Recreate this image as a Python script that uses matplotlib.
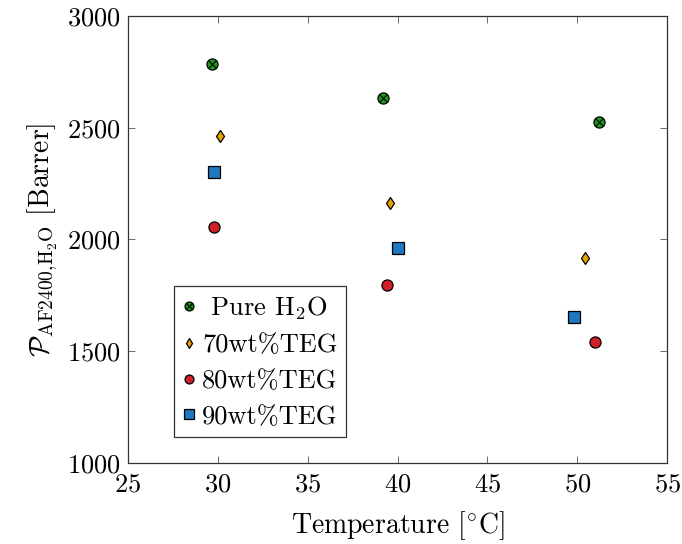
import matplotlib
matplotlib.use("Agg")
import matplotlib.pyplot as plt

plt.rcParams['font.family'] = 'cmr10'
plt.rcParams['mathtext.fontset'] = 'cm'
plt.rcParams['axes.formatter.use_mathtext'] = True

# data
temp_pure = [29.7, 39.2, 51.2]
perm_pure = [2783, 2633, 2525]
temp_70 = [30.1, 39.6, 50.4]
perm_70 = [2462, 2163, 1916]
temp_80 = [29.8, 39.4, 51.0]
perm_80 = [2057, 1796, 1543]
temp_90 = [29.8, 40.0, 49.8]
perm_90 = [2303, 1960, 1654]

labels = [' Pure H$_2$O', '70wt%TEG', '80wt%TEG', '90wt%TEG']

c_green = '#1c9a1c'
c_orange = '#e9a100'
c_red = '#d0202a'
c_blue = '#1f78c0'

fig = plt.figure(figsize=(6.82, 5.44), dpi=100)
ax = fig.add_axes([0.1877, 0.1489, 0.7906, 0.8217])

ms = 8
# otimes marker: filled circle with an x on top
h_pure_c, = ax.plot(temp_pure, perm_pure, 'o', ms=ms, mfc=c_green, mec='black', mew=0.9, zorder=3)
h_pure_x, = ax.plot(temp_pure, perm_pure, 'x', ms=ms * 0.68, mec='black', mew=0.8, zorder=4)
h70, = ax.plot(temp_70, perm_70, 'd', ms=6.2, mfc=c_orange, mec='black', mew=0.9, zorder=3)
h80, = ax.plot(temp_80, perm_80, 'o', ms=ms, mfc=c_red, mec='black', mew=0.9, zorder=3)
h90, = ax.plot(temp_90, perm_90, 's', ms=8.2, mfc=c_blue, mec='black', mew=0.9, zorder=3)

ax.set_xlim(25, 55)
ax.set_ylim(1000, 3000)
ax.set_xticks([25, 30, 35, 40, 45, 50, 55])
ax.set_yticks([1000, 1500, 2000, 2500, 3000])

ax.tick_params(direction='in', top=True, right=True, length=5, width=0.6,
               color='#555555', labelsize=19)
ax.tick_params(axis='x', pad=7)
ax.tick_params(axis='y', pad=5)
for s in ax.spines.values():
    s.set_linewidth(0.9)
    s.set_color('#333333')

ax.set_xlabel('Temperature [$^{\\circ}$C]', fontsize=20, labelpad=9)
ax.set_ylabel('$\\mathcal{P}_{\\mathrm{AF2400{,}H_2O}}$ [Barrer]', fontsize=20, labelpad=5)

leg = ax.legend([(h_pure_c, h_pure_x), h70, h80, h90], labels,
                loc='lower left', bbox_to_anchor=(0.085, 0.058), borderaxespad=0,
                fontsize=19, frameon=True, fancybox=False, handlelength=0.5,
                handletextpad=0.25, borderpad=0.32, labelspacing=0.45,
                markerscale=0.8)
leg.get_frame().set_edgecolor('black')
leg.get_frame().set_linewidth(0.9)

fig.savefig('out.png', dpi=100)
